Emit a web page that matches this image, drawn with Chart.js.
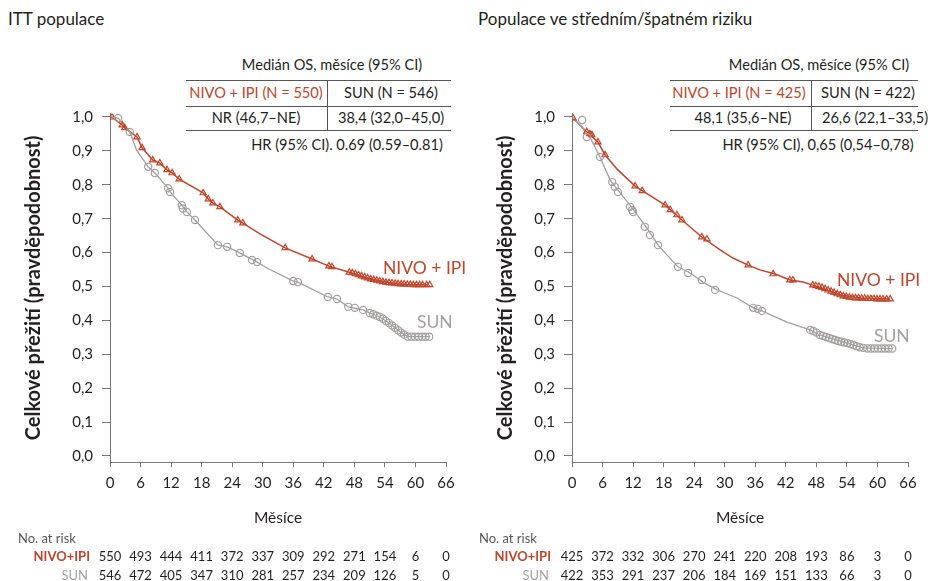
<!DOCTYPE html>
<html>
<head>
<meta charset="utf-8">
<script src="https://cdn.jsdelivr.net/npm/chart.js@4"></script>
<style>
body{margin:0;width:930px;height:581px;position:relative;background:#fff;font-family:Lato,"Liberation Sans",sans-serif;color:#231f20;overflow:hidden}
canvas{position:absolute;top:0}
.t{position:absolute;white-space:nowrap;transform:translate(-50%,-50%);font-size:14.6px;line-height:1}
.l{position:absolute;white-space:nowrap;transform:translate(0,-50%);line-height:1}
.r{position:absolute;white-space:nowrap;transform:translate(-100%,-50%);line-height:1}
.hl{position:absolute;height:0;border-top:1px solid #555}
.vl{position:absolute;width:0;border-left:1px solid #555}
.red{color:#c1452a}
.gray{color:#a39f9f}
.title{font-size:17px}
.lab{font-size:17.5px}
.risk{font-size:13px}
</style>
</head>
<body>
<div class="l title" style="left:8px;top:18px">ITT populace</div>
<div class="l title" style="left:478px;top:18px">Populace ve středním/špatném riziku</div>

<!-- ITT median table -->
<div class="t" style="left:332px;top:65px">Medián OS, měsíce (95% CI)</div>
<div class="hl" style="left:186px;width:265px;top:80px"></div>
<div class="vl" style="left:327px;top:80px;height:51px"></div>
<div class="t red" style="left:256px;top:93px">NIVO + IPI (N = 550)</div>
<div class="t" style="left:391px;top:93px">SUN (N = 546)</div>
<div class="hl" style="left:186px;width:265px;top:106px"></div>
<div class="t" style="left:256px;top:118px">NR (46,7–NE)</div>
<div class="t" style="left:391px;top:118px">38,4 (32,0–45,0)</div>
<div class="hl" style="left:186px;width:265px;top:130px"></div>
<div class="t" style="left:347px;top:145px">HR (95% CI). 0.69 (0.59–0.81)</div>

<!-- intermediate/poor median table -->
<div class="t" style="left:819px;top:65px">Medián OS, měsíce (95% CI)</div>
<div class="hl" style="left:670px;width:248px;top:80px"></div>
<div class="vl" style="left:811px;top:80px;height:51px"></div>
<div class="t red" style="left:739px;top:93px">NIVO + IPI (N = 425)</div>
<div class="t" style="left:868px;top:93px">SUN (N = 422)</div>
<div class="hl" style="left:670px;width:248px;top:106px"></div>
<div class="t" style="left:743px;top:118px">48,1 (35,6–NE)</div>
<div class="t" style="left:875px;top:118px">26,6 (22,1–33,5)</div>
<div class="hl" style="left:670px;width:248px;top:130px"></div>
<div class="t" style="left:818px;top:145px">HR (95% CI), 0,65 (0,54–0,78)</div>

<canvas id="c1" width="465" height="581" style="left:0"></canvas>
<canvas id="c2" width="465" height="581" style="left:465px"></canvas>

<div class="l lab red" style="left:383px;top:268px">NIVO + IPI</div>
<div class="l lab gray" style="left:417px;top:322px">SUN</div>
<div class="l lab red" style="left:837px;top:280px">NIVO + IPI</div>
<div class="l lab gray" style="left:874px;top:336px">SUN</div>

<div class="l risk" style="left:18px;top:538px;color:#555">No. at risk</div>
<div class="r risk red" style="left:90px;top:556px;font-weight:bold">NIVO+IPI</div>
<div class="r risk gray" style="left:88px;top:575px">SUN</div>
<div class="l risk" style="left:479px;top:538px;color:#555">No. at risk</div>
<div class="r risk red" style="left:551px;top:556px;font-weight:bold">NIVO+IPI</div>
<div class="r risk gray" style="left:549px;top:575px">SUN</div>

<script>
const RED='#c1452a', GRAY='#a39f9f';
const months=[0,6,12,18,24,30,36,42,48,54,60,66];
const yTicks=[0,0.1,0.2,0.3,0.4,0.5,0.6,0.7,0.8,0.9,1.0];

/* ITT population */
const ittNivoT=[0,0.4,2.4,2.9,5.3,6.3,8.4,9.8,11.2,12.2,13.6,18.3,19.3,20.2,21.6,25.1,26.1,29.7,34.4,39.7,43,47,50.3,54.8,58.4,62.3];
const ittNivoS=[1,1,0.976,0.968,0.941,0.909,0.873,0.864,0.844,0.835,0.817,0.776,0.758,0.746,0.735,0.696,0.687,0.653,0.614,0.581,0.56,0.542,0.526,0.512,0.506,0.505];
const ittSunT=[0,1.6,3.9,5.2,7.5,8.8,11.4,11.8,14.1,15.1,16.7,21.2,23,25.5,28.9,31,36,36.9,42.8,44.6,46.8,49.7,51,53,55,57.2,58.5,62.9];
const ittSunS=[1,0.997,0.956,0.903,0.853,0.835,0.79,0.779,0.74,0.72,0.696,0.622,0.617,0.599,0.572,0.553,0.516,0.513,0.469,0.463,0.44,0.431,0.422,0.41,0.39,0.364,0.352,0.352];
const ittNivoCensT=[0.4,2.4,2.9,5.3,6.3,8.4,9.8,11.2,12.2,13.6,18.3,19.3,20.2,21.6,25.1,26.1,34.4,39.7,43,43.6,47,47.6,48.2,48.8,49.4,50,50.6,51.2,51.8,52.4,53,53.6,54.2,54.8,55.4,56,56.6,57.2,57.8,58.4,59,59.6,60.2,60.8,61.4,62.2,62.8];
const ittNivoCensS=[1,0.976,0.968,0.941,0.909,0.873,0.864,0.844,0.835,0.817,0.776,0.758,0.746,0.735,0.696,0.687,0.614,0.581,0.56,0.558,0.542,0.54,0.537,0.534,0.531,0.528,0.525,0.522,0.52,0.518,0.516,0.514,0.512,0.511,0.51,0.509,0.508,0.507,0.507,0.506,0.506,0.505,0.505,0.505,0.505,0.505,0.505];
const ittSunCensT=[1.6,3.9,7.5,8.8,11.4,11.8,14.1,14.3,15.1,16.7,21.2,23,25.5,27.9,28.9,36,36.9,42.8,44.6,46.8,48.1,49.7,51,51.7,52.4,53,53.6,54.2,54.8,55.4,56,56.6,57.2,57.8,58.5,59.2,59.9,60.6,61.3,62,62.7];
const ittSunCensS=[0.997,0.956,0.853,0.835,0.79,0.779,0.74,0.73,0.72,0.696,0.622,0.617,0.599,0.578,0.572,0.516,0.513,0.469,0.463,0.44,0.437,0.431,0.422,0.418,0.414,0.41,0.405,0.398,0.392,0.385,0.378,0.371,0.364,0.358,0.352,0.352,0.352,0.352,0.352,0.352,0.352];
const ittRiskNivo=[550,493,444,411,372,337,309,292,271,154,6,0];
const ittRiskSun=[546,472,405,347,310,281,257,234,209,126,5,0];

/* intermediate/poor risk population */
const ipNivoT=[0,2.9,5.1,6.5,9.0,12.4,18.3,21.6,25.5,29.1,31.6,34.6,36.9,39.9,42.8,45.4,47.3,50.1,52.7,56.6,62.5];
const ipNivoS=[1,0.956,0.926,0.888,0.844,0.796,0.74,0.696,0.646,0.608,0.584,0.563,0.549,0.537,0.519,0.513,0.504,0.49,0.475,0.466,0.463];
const ipSunT=[0,1.6,3.5,5.5,7.5,9.0,11.8,14.7,16.9,20.8,23.2,25.7,28.5,32.4,35.6,37.3,42.2,46.8,48.7,54,57.2,62.9];
const ipSunS=[1,0.976,0.941,0.882,0.814,0.785,0.732,0.673,0.622,0.558,0.54,0.513,0.49,0.466,0.437,0.428,0.395,0.372,0.357,0.333,0.319,0.317];
const ipNivoCensT=[0.2,2.9,3.5,3.9,5.1,6.5,12.4,13.8,18.3,19.3,20.6,21.6,25.5,26.5,34.6,39.5,42.8,43.4,47.3,47.9,48.5,49.1,49.7,50.3,50.9,51.5,52.1,52.7,53.3,53.9,54.5,55.1,55.7,56.3,56.9,57.5,58.1,58.7,59.3,59.9,60.5,61.1,61.8,62.5];
const ipNivoCensS=[0.997,0.956,0.95,0.947,0.926,0.888,0.796,0.782,0.74,0.726,0.711,0.696,0.646,0.64,0.563,0.537,0.519,0.519,0.504,0.502,0.5,0.497,0.493,0.489,0.486,0.482,0.478,0.475,0.472,0.47,0.468,0.467,0.466,0.466,0.465,0.465,0.464,0.464,0.464,0.463,0.463,0.463,0.463,0.463];
const ipSunCensT=[2.0,2.9,5.5,7.9,8.4,9.0,11.4,11.8,12.0,14.3,15.3,16.9,20.8,22.8,25.5,28.1,35.6,36.5,37.3,46.8,47.4,48,48.7,49.3,49.9,50.5,51.1,51.7,52.3,52.9,53.5,54.1,54.7,55.3,55.9,56.5,57.2,58,58.7,59.4,60.1,60.8,61.5,62.2,62.9];
const ipSunCensS=[0.991,0.941,0.882,0.808,0.794,0.779,0.735,0.726,0.72,0.676,0.652,0.622,0.558,0.54,0.519,0.49,0.437,0.434,0.428,0.372,0.369,0.364,0.357,0.354,0.351,0.348,0.345,0.342,0.339,0.337,0.335,0.333,0.33,0.327,0.324,0.321,0.319,0.317,0.317,0.317,0.317,0.317,0.317,0.317,0.317];
const ipRiskNivo=[425,372,332,306,270,241,220,208,193,86,3,0];
const ipRiskSun=[422,353,291,237,206,184,169,151,133,66,3,0];

const pts=(t,s)=>t.map((x,i)=>({x,y:s[i]}));
const comma=v=>v.toFixed(1).replace('.',',');

function km(id, p){
  const canvas=document.getElementById(id);
  const lineDs=(data,c,w)=>({data,showLine:true,borderColor:c,borderWidth:w,pointRadius:0,tension:0,order:2});
  const censDs=(data,c,style,r)=>({data,showLine:false,pointStyle:style,pointRadius:r,borderColor:c,pointBorderWidth:1.2,backgroundColor:'rgba(0,0,0,0)',order:1});
  const axisCol='#777';
  const chart=new Chart(canvas,{
    type:'scatter',
    data:{datasets:[
      lineDs(pts(p.sunT,p.sunS),GRAY,1.3),
      lineDs(pts(p.nivoT,p.nivoS),RED,1.5),
      censDs(pts(p.sunCT,p.sunCS),GRAY,'circle',3.6),
      censDs(pts(p.nivoCT,p.nivoCS),RED,'triangle',3.6)
    ]},
    options:{
      responsive:false,animation:false,devicePixelRatio:1,
      layout:{padding:{left:0,top:113.6,right:p.padRight,bottom:0}},
      plugins:{legend:{display:false},tooltip:{enabled:false}},
      scales:{
        x:{type:'linear',min:0,max:66,
          afterBuildTicks:s=>{s.ticks=months.map(v=>({value:v}));},
          afterFit:s=>{s.height=118.9;},
          grid:{drawOnChartArea:false,drawTicks:true,tickLength:5,color:axisCol},
          border:{display:true,color:axisCol},
          ticks:{font:{family:'Lato',size:15},color:'#231f20',padding:7,maxRotation:0},
          title:{display:true,text:'Měsíce',font:{family:'Lato',size:15.5},color:'#231f20',padding:{top:0,bottom:54}}
        },
        y:{min:-0.018,max:1.01,
          afterBuildTicks:s=>{s.ticks=yTicks.map(v=>({value:v}));},
          afterFit:s=>{s.width=p.yWidth;},
          grid:{drawOnChartArea:false,drawTicks:true,tickLength:8,color:axisCol},
          border:{display:true,color:axisCol},
          ticks:{font:{family:'Lato',size:15},color:'#231f20',padding:9,callback:v=>comma(v)},
          title:{display:true,text:'Celkové přežití (pravděpodobnost)',font:{family:'Lato',size:20,weight:'bold'},color:'#231f20',padding:{top:p.titlePad,bottom:0}}
        }
      }
    }
  });
  // numbers at risk under each month tick
  const xs=chart.scales.x, off=canvas.offsetLeft;
  [[p.riskNivo,556],[p.riskSun,575]].forEach(([row,y])=>{
    row.forEach((n,i)=>{
      const d=document.createElement('div');
      d.className='t risk';
      d.style.left=(off+xs.getPixelForValue(months[i]))+'px';
      d.style.top=y+'px';
      d.textContent=n;
      document.body.appendChild(d);
    });
  });
}

km('c1',{nivoT:ittNivoT,nivoS:ittNivoS,sunT:ittSunT,sunS:ittSunS,
  nivoCT:ittNivoCensT,nivoCS:ittNivoCensS,sunCT:ittSunCensT,sunCS:ittSunCensS,
  riskNivo:ittRiskNivo,riskSun:ittRiskSun,yWidth:110,padRight:19,titlePad:22});
km('c2',{nivoT:ipNivoT,nivoS:ipNivoS,sunT:ipSunT,sunS:ipSunS,
  nivoCT:ipNivoCensT,nivoCS:ipNivoCensS,sunCT:ipSunCensT,sunCS:ipSunCensS,
  riskNivo:ipRiskNivo,riskSun:ipRiskSun,yWidth:107,padRight:22,titlePad:29});
</script>
</body>
</html>
